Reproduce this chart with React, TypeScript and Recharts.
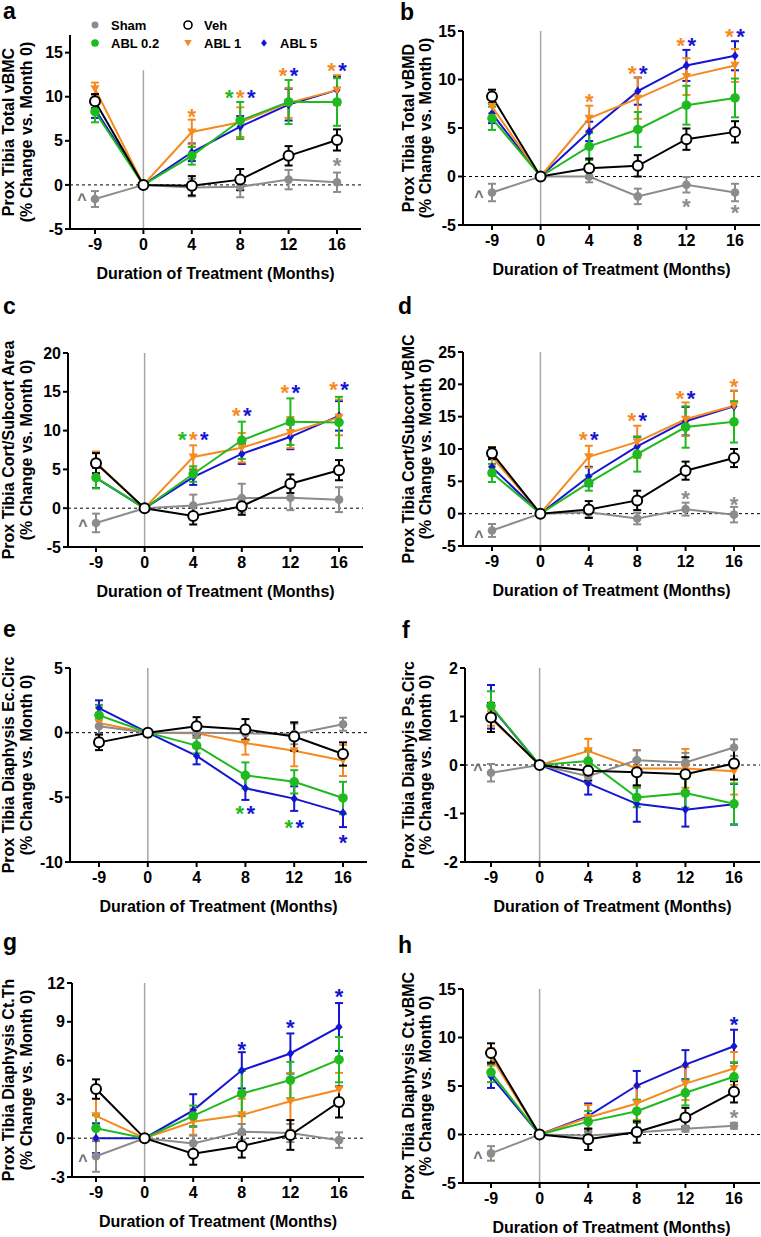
import React from 'react';
import { LineChart, Line, XAxis, YAxis, ErrorBar, ReferenceLine, ReferenceDot } from 'recharts';

const MONTHS = ['-9', '0', '4', '8', '12', '16'];

// ---------- Panel a: Prox Tibia Total vBMC ----------
const A_SHAM = [-1.6, 0, -0.3, -0.2, 0.6, 0.3];
const A_SHAM_E = [0.9, 0, 1.0, 1.2, 1.1, 1.1];
const A_VEH = [9.5, 0, -0.1, 0.6, 3.3, 5.1];
const A_VEH_E = [0.8, 0, 1.1, 1.2, 1.1, 1.2];
const A_A02 = [8.3, 0, 3.3, 7.3, 9.4, 9.4];
const A_A02_E = [1.2, 0, 1.0, 2.1, 2.5, 2.7];
const A_A1 = [10.9, 0, 6.0, 7.1, 9.3, 10.75];
const A_A1_E = [0.7, 0, 1.4, 1.7, 1.7, 1.7];
const A_A5 = [8.6, 0, 3.7, 6.6, 9.1, 10.75];
const A_A5_E = [1.0, 0, 1.0, 1.2, 1.8, 1.5];
const A_TICKS = [-5, 0, 5, 10, 15];
const A_STARS = [
  { m: '4', y: 8.3, s: ['a1'] },
  { m: '8', y: 10.45, s: ['a02', 'a1', 'a5'] },
  { m: '12', y: 12.9, s: ['a1', 'a5'] },
  { m: '16', y: 13.5, s: ['a1', 'a5'] },
  { m: '16', y: 2.8, s: ['sham'] },
];
const A_CARET = -1.4;

// ---------- Panel b: Prox Tibia Total vBMD ----------
const B_SHAM = [-1.65, 0, 0.0, -2.05, -0.85, -1.65];
const B_SHAM_E = [0.9, 0, 0.6, 0.8, 0.8, 0.9];
const B_VEH = [8.25, 0, 0.85, 1.1, 3.85, 4.6];
const B_VEH_E = [0.7, 0, 1.0, 1.1, 1.1, 1.1];
const B_A02 = [6.0, 0, 3.1, 4.85, 7.35, 8.1];
const B_A02_E = [1.2, 0, 1.4, 1.8, 2.0, 2.0];
const B_A1 = [7.2, 0, 6.0, 8.05, 10.3, 11.45];
const B_A1_E = [0.7, 0, 1.3, 2.1, 1.9, 1.7];
const B_A5 = [6.5, 0, 4.65, 8.8, 11.45, 12.45];
const B_A5_E = [1.0, 0, 1.0, 1.4, 1.6, 1.5];
const B_TICKS = [-5, 0, 5, 10, 15];
const B_STARS = [
  { m: '4', y: 8.2, s: ['a1'] },
  { m: '8', y: 11.15, s: ['a1', 'a5'] },
  { m: '12', y: 14.0, s: ['a1', 'a5'] },
  { m: '16', y: 14.9, s: ['a1', 'a5'] },
  { m: '12', y: -2.55, s: ['sham'] },
  { m: '16', y: -3.25, s: ['sham'] },
];
const B_CARET = -1.8;

// ---------- Panel c: Prox Tibia Cort/Subcort Area ----------
const C_SHAM = [-1.9, 0, 0.35, 1.3, 1.35, 1.1];
const C_SHAM_E = [1.2, 0, 1.4, 1.85, 1.6, 1.6];
const C_VEH = [5.8, 0, -1.0, 0.25, 3.15, 4.9];
const C_VEH_E = [1.3, 0, 1.1, 1.1, 1.2, 1.3];
const C_A02 = [3.95, 0, 4.4, 8.75, 11.15, 11.05];
const C_A02_E = [1.4, 0, 1.0, 2.4, 3.0, 3.3];
const C_A1 = [5.9, 0, 6.6, 7.8, 9.75, 11.7];
const C_A1_E = [1.4, 0, 1.5, 1.9, 2.0, 2.3];
const C_A5 = [3.9, 0, 4.0, 7.0, 9.2, 11.9];
const C_A5_E = [1.3, 0, 1.0, 1.3, 1.6, 1.9];
const C_TICKS = [-5, 0, 5, 10, 15, 20];
const C_STARS = [
  { m: '4', y: 9.5, s: ['a02', 'a1', 'a5'] },
  { m: '8', y: 12.6, s: ['a1', 'a5'] },
  { m: '12', y: 15.55, s: ['a1', 'a5'] },
  { m: '16', y: 15.9, s: ['a1', 'a5'] },
];
const C_CARET = -1.9;

// ---------- Panel d: Prox Tibia Cort/Subcort vBMC ----------
const D_SHAM = [-2.6, 0, 0.2, -0.75, 0.7, -0.15];
const D_SHAM_E = [1.0, 0, 0.8, 0.9, 1.0, 1.2];
const D_VEH = [9.35, 0, 0.65, 2.05, 6.65, 8.6];
const D_VEH_E = [0.9, 0, 1.3, 1.5, 1.4, 1.4];
const D_A02 = [6.3, 0, 4.75, 9.2, 13.4, 14.2];
const D_A02_E = [1.4, 0, 1.2, 2.7, 3.2, 3.2];
const D_A1 = [8.8, 0, 8.8, 11.1, 14.6, 16.7];
const D_A1_E = [1.5, 0, 1.7, 2.5, 2.6, 2.3];
const D_A5 = [7.2, 0, 5.75, 10.4, 14.3, 16.6];
const D_A5_E = [1.2, 0, 1.5, 1.5, 2.2, 2.4];
const D_TICKS = [-5, 0, 5, 10, 15, 20, 25];
const D_STARS = [
  { m: '4', y: 12.2, s: ['a1', 'a5'] },
  { m: '8', y: 15.15, s: ['a1', 'a5'] },
  { m: '12', y: 18.55, s: ['a1', 'a5'] },
  { m: '16', y: 20.35, s: ['a1'] },
  { m: '12', y: 3.1, s: ['sham'] },
  { m: '16', y: 2.2, s: ['sham'] },
];
const D_CARET = -3.1;

// ---------- Panel e: Prox Tibia Diaphysis Ec.Circ ----------
const E_SHAM = [0.5, 0, 0.0, -0.05, -0.1, 0.65];
const E_SHAM_E = [0.6, 0, 0.4, 0.5, 0.8, 0.5];
const E_VEH = [-0.75, 0, 0.5, 0.25, -0.3, -1.65];
const E_VEH_E = [0.6, 0, 0.7, 0.8, 1.1, 0.9];
const E_A02 = [1.35, 0, -1.0, -3.3, -3.8, -5.05];
const E_A02_E = [0.8, 0, 0.6, 1.0, 0.9, 1.25];
const E_A1 = [0.75, 0, -0.05, -0.8, -1.4, -2.15];
const E_A1_E = [1.2, 0, 0.3, 0.9, 1.2, 1.2];
const E_A5 = [1.9, 0, -1.8, -4.3, -5.1, -6.2];
const E_A5_E = [0.6, 0, 0.65, 0.9, 0.95, 1.1];
const E_TICKS = [-10, -5, 0, 5];
const E_STARS = [
  { m: '8', y: -5.85, s: ['a02', 'a5'] },
  { m: '12', y: -6.95, s: ['a02', 'a5'] },
  { m: '16', y: -8.1, s: ['a5'] },
];

// ---------- Panel f: Prox Tibia Diaphyis Ps.Circ ----------
const F_SHAM = [-0.16, 0, -0.23, 0.1, 0.05, 0.36];
const F_SHAM_E = [0.18, 0, 0.15, 0.2, 0.2, 0.17];
const F_VEH = [0.98, 0, -0.12, -0.15, -0.19, 0.03];
const F_VEH_E = [0.3, 0, 0.2, 0.27, 0.35, 0.33];
const F_A02 = [1.22, 0, 0.08, -0.67, -0.58, -0.8];
const F_A02_E = [0.3, 0, 0.22, 0.2, 0.3, 0.42];
const F_A1 = [0.96, 0, 0.29, -0.07, -0.07, -0.13];
const F_A1_E = [0.15, 0, 0.25, 0.38, 0.4, 0.48];
const F_A5 = [1.2, 0, -0.38, -0.8, -0.92, -0.81];
const F_A5_E = [0.45, 0, 0.23, 0.37, 0.35, 0.42];
const F_TICKS = [-2, -1, 0, 1, 2];
const F_CARET = -0.05;

// ---------- Panel g: Prox Tibia Diaphysis Ct.Th ----------
const G_SHAM = [-1.4, 0, -0.4, 0.5, 0.4, -0.15];
const G_SHAM_E = [1.2, 0, 0.6, 0.6, 0.7, 0.6];
const G_VEH = [3.8, 0, -1.2, -0.6, 0.25, 2.8];
const G_VEH_E = [0.75, 0, 0.85, 0.9, 1.15, 1.2];
const G_A02 = [0.77, 0, 1.72, 3.45, 4.5, 6.07];
const G_A02_E = [1.0, 0, 0.8, 1.75, 1.4, 1.75];
const G_A1 = [1.72, 0, 1.27, 1.8, 2.85, 3.75];
const G_A1_E = [1.8, 0, 1.0, 1.25, 2.2, 1.3];
const G_A5 = [0.0, 0, 2.15, 5.25, 6.55, 8.6];
const G_A5_E = [1.15, 0, 1.25, 1.4, 1.55, 1.85];
const G_TICKS = [-3, 0, 3, 6, 9, 12];
const G_STARS = [
  { m: '8', y: 7.25, s: ['a5'] },
  { m: '12', y: 8.9, s: ['a5'] },
  { m: '16', y: 11.3, s: ['a5'] },
];
const G_CARET = -1.55;

// ---------- Panel h: Prox Tibia Diaphysis Ct.vBMC ----------
const H_SHAM = [-1.95, 0, -0.1, 0.2, 0.6, 0.9];
const H_SHAM_E = [0.75, 0, 0.4, 0.4, 0.3, 0.3];
const H_VEH = [8.4, 0, -0.5, 0.25, 1.75, 4.4];
const H_VEH_E = [1.0, 0, 1.1, 1.1, 1.0, 1.1];
const H_A02 = [6.4, 0, 1.33, 2.4, 4.3, 5.95];
const H_A02_E = [1.0, 0, 1.1, 1.2, 1.3, 1.5];
const H_A1 = [8.0, 0, 1.75, 3.2, 5.25, 6.8];
const H_A1_E = [0.9, 0, 1.3, 1.7, 1.7, 1.7];
const H_A5 = [6.0, 0, 1.9, 5.05, 7.2, 9.1];
const H_A5_E = [1.2, 0, 1.3, 1.5, 1.5, 1.7];
const H_TICKS = [-5, 0, 5, 10, 15];
const H_STARS = [
  { m: '16', y: 11.85, s: ['a5'] },
  { m: '16', y: 2.25, s: ['sham'] },
];
const H_CARET = -2.1;

// ---------- series styling ----------
const COLORS: Record<string, string> = {
  sham: '#8c8c8c',
  veh: '#000000',
  a02: '#1fba1f',
  a1: '#f58a1f',
  a5: '#1515d2',
};
const SERIES = [
  { key: 'a5', name: 'ABL 5', shape: 'diamond' },
  { key: 'a1', name: 'ABL 1', shape: 'triangle' },
  { key: 'a02', name: 'ABL 0.2', shape: 'circle' },
  { key: 'sham', name: 'Sham', shape: 'circle' },
  { key: 'veh', name: 'Veh', shape: 'open' },
];
const LEGEND_ROWS = [
  ['sham', 'veh'],
  ['a02', 'a1', 'a5'],
];

const FONT = "'Liberation Sans', Arial, Helvetica, sans-serif";
const XAXIS_H = 50;
const STAR_GAP = 11;

function marker(shape: string, color: string, cx: number, cy: number, scale = 1, key?: any) {
  if (shape === 'open') {
    return <circle key={key} cx={cx} cy={cy} r={5 * scale} fill="#fff" stroke={color} strokeWidth={2 * scale} />;
  }
  if (shape === 'triangle') {
    const w = 4.6 * scale;
    return (
      <polygon
        key={key}
        points={`${cx - w},${cy - 3.6 * scale} ${cx + w},${cy - 3.6 * scale} ${cx},${cy + 4.4 * scale}`}
        fill={color}
      />
    );
  }
  if (shape === 'diamond') {
    const h = 4.6 * scale;
    const w = 3.6 * scale;
    return (
      <polygon key={key} points={`${cx},${cy - h} ${cx + w},${cy} ${cx},${cy + h} ${cx - w},${cy}`} fill={color} />
    );
  }
  const r = (color === COLORS.sham ? 4.3 : 4.8) * scale;
  return <circle key={key} cx={cx} cy={cy} r={r} fill={color} />;
}

const makeDot = (shape: string, color: string) => (props: any) => {
  const { cx, cy, index } = props;
  if (cx == null || cy == null) return <g key={`d${index}`} />;
  return marker(shape, color, cx, cy, 1, `d${index}`);
};

const LegendGraphic = () => {
  const markerX = [10, 103, 179];
  const rowY = [11, 29];
  const nameOf = (k: string) => SERIES.find((s) => s.key === k)!;
  return (
    <svg width={240} height={40} style={{ position: 'absolute', left: 85, top: 14 }}>
      {LEGEND_ROWS.map((row, ri) =>
        row.map((k, ci) => {
          const s = nameOf(k);
          return (
            <g key={`${ri}-${ci}`}>
              {marker(s.shape, COLORS[k], markerX[ci], rowY[ri], 0.8)}
              <text
                x={markerX[ci] + 16}
                y={rowY[ri] + 4.7}
                fontSize={13}
                fontWeight="bold"
                fill="#000"
                fontFamily={FONT}
              >
                {s.name}
              </text>
            </g>
          );
        })
      )}
    </svg>
  );
};

type Panel = {
  id: string;
  title: [string, string];
  cell: { x: number; y: number; w: number; h: number };
  plot: { L: number; T: number; R: number; B: number };
  pad: [number, number];
  domain: [number, number];
  ticks: number[];
  series: Record<string, [number[], number[]]>;
  stars: { m: string; y: number; s: string[] }[];
  caret?: number;
  zeroTop?: number;
  legend?: boolean;
  letter: { x: number; y: number };
};

const PANELS: Panel[] = [
  {
    id: 'a',
    title: ['Prox Tibia Total vBMC', '(% Change vs. Month 0)'],
    cell: { x: 0, y: 0, w: 380, h: 300 },
    plot: { L: 70, T: 35, R: 361, B: 229 },
    pad: [25, 24],
    domain: [-5, 17],
    ticks: A_TICKS,
    series: {
      sham: [A_SHAM, A_SHAM_E],
      veh: [A_VEH, A_VEH_E],
      a02: [A_A02, A_A02_E],
      a1: [A_A1, A_A1_E],
      a5: [A_A5, A_A5_E],
    },
    stars: A_STARS,
    caret: A_CARET,
    zeroTop: 13,
    legend: true,
    letter: { x: 3, y: 19 },
  },
  {
    id: 'b',
    title: ['Prox Tibia Total vBMD', '(% Change vs. Month 0)'],
    cell: { x: 380, y: 0, w: 381, h: 300 },
    plot: { L: 463, T: 31, R: 760, B: 225 },
    pad: [29, 25],
    domain: [-5, 15],
    ticks: B_TICKS,
    series: {
      sham: [B_SHAM, B_SHAM_E],
      veh: [B_VEH, B_VEH_E],
      a02: [B_A02, B_A02_E],
      a1: [B_A1, B_A1_E],
      a5: [B_A5, B_A5_E],
    },
    stars: B_STARS,
    caret: B_CARET,
    letter: { x: 400, y: 20 },
  },
  {
    id: 'c',
    title: ['Prox Tibia Cort/Subcort  Area', '(% Change vs. Month 0)'],
    cell: { x: 0, y: 300, w: 380, h: 310 },
    plot: { L: 68, T: 353, R: 363, B: 547 },
    pad: [28, 24],
    domain: [-5, 20],
    ticks: C_TICKS,
    series: {
      sham: [C_SHAM, C_SHAM_E],
      veh: [C_VEH, C_VEH_E],
      a02: [C_A02, C_A02_E],
      a1: [C_A1, C_A1_E],
      a5: [C_A5, C_A5_E],
    },
    stars: C_STARS,
    caret: C_CARET,
    letter: { x: 3, y: 314 },
  },
  {
    id: 'd',
    title: ['Prox Tibia Cort/Subcort vBMC', '(% Change vs. Month 0)'],
    cell: { x: 380, y: 300, w: 381, h: 310 },
    plot: { L: 463, T: 352, R: 760, B: 546 },
    pad: [29, 26],
    domain: [-5, 25],
    ticks: D_TICKS,
    series: {
      sham: [D_SHAM, D_SHAM_E],
      veh: [D_VEH, D_VEH_E],
      a02: [D_A02, D_A02_E],
      a1: [D_A1, D_A1_E],
      a5: [D_A5, D_A5_E],
    },
    stars: D_STARS,
    caret: D_CARET,
    letter: { x: 398, y: 314 },
  },
  {
    id: 'e',
    title: ['Prox Tibia Diaphysis Ec.Circ', '(% Change vs. Month 0)'],
    cell: { x: 0, y: 610, w: 380, h: 315 },
    plot: { L: 70, T: 668, R: 367, B: 862 },
    pad: [29, 24],
    domain: [-10, 5],
    ticks: E_TICKS,
    series: {
      sham: [E_SHAM, E_SHAM_E],
      veh: [E_VEH, E_VEH_E],
      a02: [E_A02, E_A02_E],
      a1: [E_A1, E_A1_E],
      a5: [E_A5, E_A5_E],
    },
    stars: E_STARS,
    letter: { x: 3, y: 637 },
  },
  {
    id: 'f',
    title: ['Prox Tibia Diaphyis Ps.Circ', '(% Change vs. Month 0)'],
    cell: { x: 380, y: 610, w: 381, h: 315 },
    plot: { L: 465, T: 668, R: 760, B: 862 },
    pad: [26, 26],
    domain: [-2, 2],
    ticks: F_TICKS,
    series: {
      sham: [F_SHAM, F_SHAM_E],
      veh: [F_VEH, F_VEH_E],
      a02: [F_A02, F_A02_E],
      a1: [F_A1, F_A1_E],
      a5: [F_A5, F_A5_E],
    },
    stars: [],
    caret: F_CARET,
    letter: { x: 402, y: 638 },
  },
  {
    id: 'g',
    title: ['Prox Tibia Diaphysis Ct.Th', '(% Change vs. Month 0)'],
    cell: { x: 0, y: 925, w: 380, h: 312 },
    plot: { L: 72, T: 983, R: 364, B: 1177 },
    pad: [24, 25],
    domain: [-3, 12],
    ticks: G_TICKS,
    series: {
      sham: [G_SHAM, G_SHAM_E],
      veh: [G_VEH, G_VEH_E],
      a02: [G_A02, G_A02_E],
      a1: [G_A1, G_A1_E],
      a5: [G_A5, G_A5_E],
    },
    stars: G_STARS,
    caret: G_CARET,
    letter: { x: 3, y: 950 },
  },
  {
    id: 'h',
    title: ['Prox Tibia Diaphysis Ct.vBMC', '(% Change vs. Month 0)'],
    cell: { x: 380, y: 925, w: 381, h: 312 },
    plot: { L: 463, T: 989, R: 760, B: 1183 },
    pad: [28, 26],
    domain: [-5, 15],
    ticks: H_TICKS,
    series: {
      sham: [H_SHAM, H_SHAM_E],
      veh: [H_VEH, H_VEH_E],
      a02: [H_A02, H_A02_E],
      a1: [H_A1, H_A1_E],
      a5: [H_A5, H_A5_E],
    },
    stars: H_STARS,
    caret: H_CARET,
    letter: { x: 398, y: 953 },
  },
];

const starShape = (dx: number, color: string, glyph: string, fs: number, lift: number) => (p: any) => {
  if (p.cx == null || p.cy == null) return <g />;
  return (
    <text
      x={p.cx + dx}
      y={p.cy + lift * fs}
      textAnchor="middle"
      fill={color}
      fontSize={fs}
      fontWeight="bold"
      fontFamily={FONT}
    >
      {glyph}
    </text>
  );
};

function PanelChart({ p }: { p: Panel }) {
  const { cell, plot } = p;
  const data = MONTHS.map((m, i) => {
    const row: any = { m };
    Object.keys(p.series).forEach((k) => {
      row[k] = p.series[k][0][i];
      row[k + 'E'] = p.series[k][1][i];
    });
    return row;
  });
  const margin = {
    top: plot.T - cell.y,
    right: cell.x + cell.w - plot.R,
    bottom: cell.y + cell.h - plot.B - XAXIS_H,
    left: 0,
  };
  const yAxisW = plot.L - cell.x;
  const isLeft = cell.x === 0;
  const t1x = isLeft ? 14 : 34;
  const t2x = isLeft ? 32 : 51;

  const yLabel = (props: any) => {
    const vb = props.viewBox || {};
    const cy = (vb.y ?? 0) + (vb.height ?? 0) / 2;
    return (
      <g>
        <text
          x={t1x}
          y={cy}
          transform={`rotate(-90 ${t1x} ${cy})`}
          textAnchor="middle"
          fontSize={16}
          fontWeight="bold"
          fill="#000"
          fontFamily={FONT}
        >
          {p.title[0]}
        </text>
        <text
          x={t2x}
          y={cy}
          transform={`rotate(-90 ${t2x} ${cy})`}
          textAnchor="middle"
          fontSize={16}
          fontWeight="bold"
          fill="#000"
          fontFamily={FONT}
        >
          {p.title[1]}
        </text>
      </g>
    );
  };
  const xLabel = (props: any) => {
    const vb = props.viewBox || {};
    return (
      <text
        x={(vb.x ?? 0) + (vb.width ?? 0) / 2}
        y={(vb.y ?? 0) + 50}
        textAnchor="middle"
        fontSize={16}
        fontWeight="bold"
        fill="#000"
        fontFamily={FONT}
      >
        Duration of Treatment (Months)
      </text>
    );
  };

  const tickStyle = { fontSize: 16, fontWeight: 'bold', fill: '#000', fontFamily: FONT };

  return (
    <div style={{ position: 'absolute', left: cell.x, top: cell.y, width: cell.w, height: cell.h }}>
      <LineChart width={cell.w} height={cell.h} data={data} margin={margin}>
        <XAxis
          dataKey="m"
          type="category"
          interval={0}
          padding={{ left: p.pad[0], right: p.pad[1] }}
          height={XAXIS_H}
          tick={tickStyle}
          tickSize={5}
          tickMargin={5}
          axisLine={{ stroke: '#000', strokeWidth: 2 }}
          tickLine={{ stroke: '#000', strokeWidth: 2 }}
          label={xLabel}
        />
        <YAxis
          type="number"
          domain={p.domain}
          ticks={p.ticks}
          allowDataOverflow
          width={yAxisW}
          tick={tickStyle}
          tickSize={5}
          tickMargin={2}
          axisLine={{ stroke: '#000', strokeWidth: 2 }}
          tickLine={{ stroke: '#000', strokeWidth: 2 }}
          label={yLabel}
        />
        <ReferenceLine y={0} stroke="#000" strokeWidth={1} strokeDasharray="3 3" />
        {p.zeroTop != null ? (
          <ReferenceLine
            segment={[
              { x: '0', y: p.domain[0] },
              { x: '0', y: p.zeroTop },
            ]}
            stroke="#a6a6a6"
            strokeWidth={1.5}
          />
        ) : (
          <ReferenceLine x="0" stroke="#a6a6a6" strokeWidth={1.5} />
        )}
        {SERIES.map((s) => (
          <Line
            key={s.key}
            dataKey={s.key}
            name={s.name}
            stroke={COLORS[s.key]}
            strokeWidth={2}
            dot={makeDot(s.shape, COLORS[s.key])}
            activeDot={false}
            isAnimationActive={false}
          >
            <ErrorBar
              dataKey={s.key + 'E'}
              direction="y"
              width={4}
              stroke={COLORS[s.key]}
              strokeWidth={2}
              isAnimationActive={false}
            />
          </Line>
        ))}
        {p.stars.flatMap((st, si) =>
          st.s.map((k, j) => (
            <ReferenceDot
              key={`st-${si}-${j}`}
              x={st.m}
              y={st.y}
              r={0}
              ifOverflow="visible"
              shape={starShape((j - (st.s.length - 1) / 2) * STAR_GAP, COLORS[k], '*', 22, 0.56)}
            />
          ))
        )}
        {p.caret != null && (
          <ReferenceDot
            x="-9"
            y={p.caret}
            r={0}
            ifOverflow="visible"
            shape={starShape(-13, '#6e6e6e', '^', 16, 0.5)}
          />
        )}
      </LineChart>
      {p.legend && <LegendGraphic />}
    </div>
  );
}

export default function App() {
  return (
    <div
      style={{
        position: 'absolute',
        left: 0,
        top: 0,
        width: 761,
        height: 1237,
        background: '#fff',
        fontFamily: FONT,
        overflow: 'hidden',
      }}
    >
      {PANELS.map((p) => (
        <PanelChart key={p.id} p={p} />
      ))}
      {PANELS.map((p) => (
        <div
          key={'l' + p.id}
          style={{
            position: 'absolute',
            left: p.letter.x,
            top: Math.max(1, p.letter.y - 18),
            fontSize: 23,
            lineHeight: '20px',
            fontWeight: 'bold',
            color: '#000',
          }}
        >
          {p.id}
        </div>
      ))}
    </div>
  );
}
